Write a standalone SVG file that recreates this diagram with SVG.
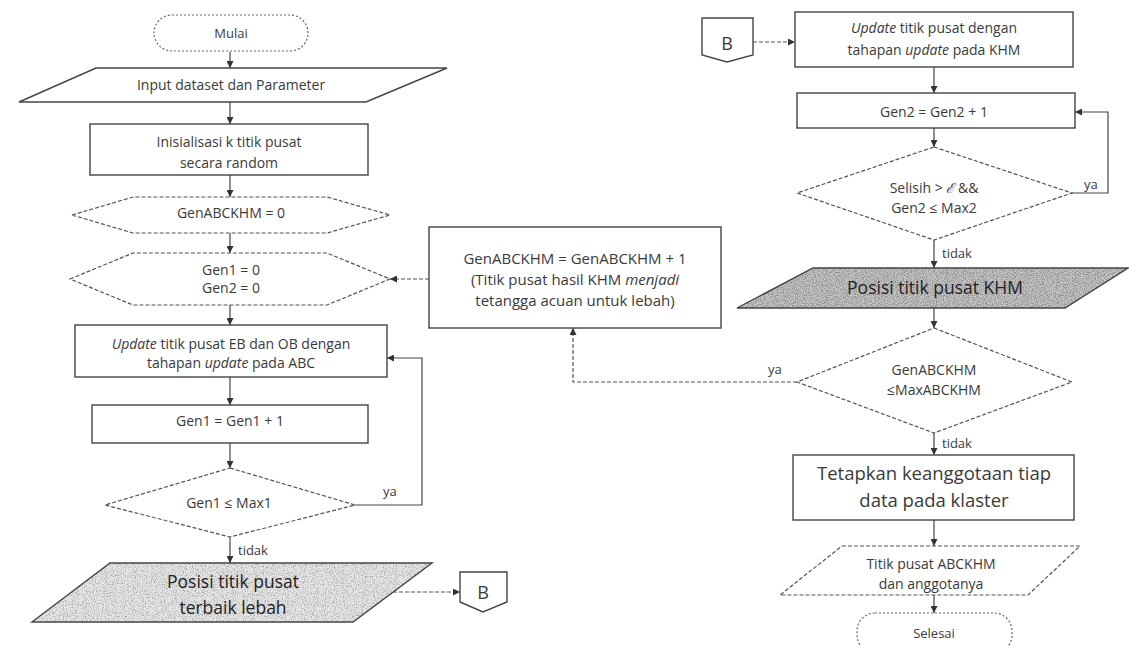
<svg xmlns="http://www.w3.org/2000/svg" width="1129" height="646" viewBox="0 0 1129 646">
<style>
text{font-family:"Open Sans","Liberation Sans",sans-serif;fill:#3a3a3a;text-anchor:middle}
.t13{font-size:13px}
.t14{font-size:14px}
.t15{font-size:15px}
.t17{font-size:17.5px;fill:#222}
.t18{font-size:18.5px}
.box{fill:#fff;stroke:#444;stroke-width:1.4}
.dash{fill:#fff;stroke:#555;stroke-width:1.2;stroke-dasharray:4 2}
.dot{fill:#fff;stroke:#666;stroke-width:1.2;stroke-dasharray:2 2}
.ln{fill:none;stroke:#444;stroke-width:1.2;marker-end:url(#ah)}
.lnd{fill:none;stroke:#555;stroke-width:1.2;stroke-dasharray:4 2;marker-end:url(#ah)}
.lbl{font-size:13px;text-anchor:start}
</style>
<defs>
<marker id="ah" viewBox="0 0 8 8" refX="8" refY="4" markerWidth="7" markerHeight="7" markerUnits="userSpaceOnUse" orient="auto">
<path d="M0,0 L8,4 L0,8 z" fill="#333"/>
</marker>
<filter id="grain" x="0" y="0" width="100%" height="100%">
<feTurbulence type="fractalNoise" baseFrequency="0.9" numOctaves="2" seed="4" result="n"/>
<feColorMatrix in="n" type="matrix" values="0 0 0 0 0.3  0 0 0 0 0.3  0 0 0 0 0.3  2.6 0 0 0 -1.2" result="d"/>
<feComposite in="d" in2="SourceGraphic" operator="in"/>
</filter>
<filter id="grain2" x="0" y="0" width="100%" height="100%">
<feTurbulence type="fractalNoise" baseFrequency="0.9" numOctaves="2" seed="9" result="n"/>
<feColorMatrix in="n" type="matrix" values="0 0 0 0 0.25  0 0 0 0 0.25  0 0 0 0 0.25  3.0 0 0 0 -1.2" result="d"/>
<feComposite in="d" in2="SourceGraphic" operator="in"/>
</filter>
</defs>
<rect width="1129" height="646" fill="#fff"/>

<g id="connectors">
<path class="ln" d="M230,52 V68"/>
<path class="ln" d="M230,102 V124"/>
<path class="ln" d="M230,175 V197"/>
<path class="ln" d="M230,233 V253"/>
<path class="ln" d="M230,305 V325"/>
<path class="ln" d="M230,377 V405"/>
<path class="ln" d="M230,443 V468"/>
<path class="ln" d="M230,537 V563"/>
<path class="ln" d="M355,505 H422 V358 H387"/>
<path class="lnd" d="M393,592 H460"/>
<path class="lnd" d="M753,42 H795"/>
<path class="ln" d="M934,67 V93"/>
<path class="ln" d="M934,128 V147"/>
<path class="ln" d="M1072,193 H1108 V112 H1075"/>
<path class="ln" d="M934,240 V268"/>
<path class="ln" d="M934,308 V328"/>
<path class="lnd" d="M797,382 H573 V328"/>
<path class="lnd" d="M429,279 H390"/>
<path class="ln" d="M934,433 V455"/>
<path class="ln" d="M934,520 V546"/>
<path class="ln" d="M934,595 V613"/>
<text class="lbl" x="238" y="555">tidak</text>
<text class="lbl" x="383" y="496">ya</text>
<text class="lbl" x="1084" y="189">ya</text>
<text class="lbl" x="942" y="258">tidak</text>
<text class="lbl" x="768" y="374">ya</text>
<text class="lbl" x="942" y="448">tidak</text>
</g>

<g id="mulai">
<rect class="dot" x="154" y="15" width="154" height="36" rx="18"/>
<text class="t13" x="231" y="38">Mulai</text>
</g>

<g id="input">
<polygon class="box" points="96,68 447,68 366,102 19,102"/>
<text class="t14" x="231" y="90">Input dataset dan Parameter</text>
</g>

<g id="inisialisasi">
<rect class="box" x="90" y="124" width="278" height="51"/>
<text class="t14" x="229" y="147">Inisialisasi  k  titik pusat</text>
<text class="t14" x="229" y="168">secara random</text>
</g>

<g id="genabckhm0">
<polygon class="dash" points="72,215 133,197 327,197 390,215 327,233 133,233"/>
<text class="t14" x="231" y="218">GenABCKHM = 0</text>
</g>

<g id="gen0">
<polygon class="dash" points="70,279 133,253 327,253 390,279 327,305 133,305"/>
<text class="t14" x="231" y="275">Gen1 = 0</text>
<text class="t14" x="231" y="293">Gen2 = 0</text>
</g>

<g id="updateabc">
<rect class="box" x="75" y="325" width="312" height="52"/>
<text class="t14" x="231" y="349"><tspan font-style="italic">Update</tspan> titik pusat EB dan OB dengan</text>
<text class="t14" x="231" y="368">tahapan <tspan font-style="italic">update</tspan> pada ABC</text>
</g>

<g id="gen1inc">
<rect class="box" x="92" y="405" width="276" height="38"/>
<text class="t14" x="230" y="426">Gen1 = Gen1 + 1</text>
</g>

<g id="gen1cond">
<polygon class="dash" points="230,468 355,505 230,537 105,505"/>
<text class="t14" x="229" y="508">Gen1 ≤ Max1</text>
</g>

<g id="posisilebah">
<polygon points="110,563 432,563 353,622 32,622" fill="#e6e6e6"/>
<polygon points="110,563 432,563 353,622 32,622" fill="#fff" filter="url(#grain)"/>
<polygon points="110,563 432,563 353,622 32,622" fill="none" stroke="#444" stroke-width="1.4"/>
<text class="t17" x="233" y="588">Posisi titik pusat</text>
<text class="t17" x="233" y="614">terbaik lebah</text>
</g>

<g id="b-left">
<polygon class="box" points="460,572 507,572 507,602 483,612 460,602"/>
<text x="483" y="599" style="font-size:18px">B</text>
</g>

<g id="b-right">
<polygon class="box" points="702,18 753,18 753,55 727,62 702,55"/>
<text x="727" y="50" style="font-size:18px">B</text>
</g>

<g id="updatekhm">
<rect class="box" x="795" y="12" width="278" height="55"/>
<text class="t14" x="934" y="33"><tspan font-style="italic">Update</tspan> titik pusat dengan</text>
<text class="t14" x="934" y="55">tahapan <tspan font-style="italic">update</tspan> pada KHM</text>
</g>

<g id="gen2inc">
<rect class="box" x="797" y="93" width="278" height="35"/>
<text class="t14" x="934" y="117">Gen2 = Gen2 + 1</text>
</g>

<g id="gen2cond">
<polygon class="dash" points="934,147 1072,193 934,240 797,193"/>
<text class="t14" x="934" y="193">Selisih &gt; <tspan font-style="italic">ℰ</tspan> &amp;&amp;</text>
<text class="t14" x="934" y="213">Gen2 ≤ Max2</text>
</g>

<g id="posisikhm">
<polygon points="813,268 1128,268 1065,308 737,308" fill="#c6c6c6"/>
<polygon points="813,268 1128,268 1065,308 737,308" fill="#fff" filter="url(#grain2)"/>
<polygon points="813,268 1128,268 1065,308 737,308" fill="none" stroke="#444" stroke-width="1.4"/>
<text class="t17" x="935" y="294">Posisi titik pusat KHM</text>
</g>

<g id="genabckhmcond">
<polygon class="dash" points="934,328 1072,382 934,433 797,382"/>
<text class="t14" x="934" y="375">GenABCKHM</text>
<text class="t14" x="934" y="395">≤MaxABCKHM</text>
</g>

<g id="genabckhminc">
<rect class="box" x="429" y="227" width="292" height="101"/>
<text class="t15" x="575" y="264">GenABCKHM = GenABCKHM + 1</text>
<text class="t15" x="575" y="285">(Titik pusat hasil KHM <tspan font-style="italic">menjadi</tspan></text>
<text class="t15" x="575" y="306">tetangga acuan untuk lebah)</text>
</g>

<g id="tetapkan">
<rect class="box" x="793" y="455" width="281" height="65"/>
<text class="t18" x="934" y="480">Tetapkan keanggotaan tiap</text>
<text class="t18" x="934" y="507">data pada klaster</text>
</g>

<g id="titikpusat">
<polygon class="dash" points="842,546 1080,546 1028,595 780,595"/>
<text class="t14" x="931" y="569">Titik pusat ABCKHM</text>
<text class="t14" x="931" y="589">dan anggotanya</text>
</g>

<g id="selesai">
<rect class="dot" x="857" y="613" width="155" height="40" rx="18"/>
<text class="t13" x="934" y="638">Selesai</text>
</g>
</svg>
